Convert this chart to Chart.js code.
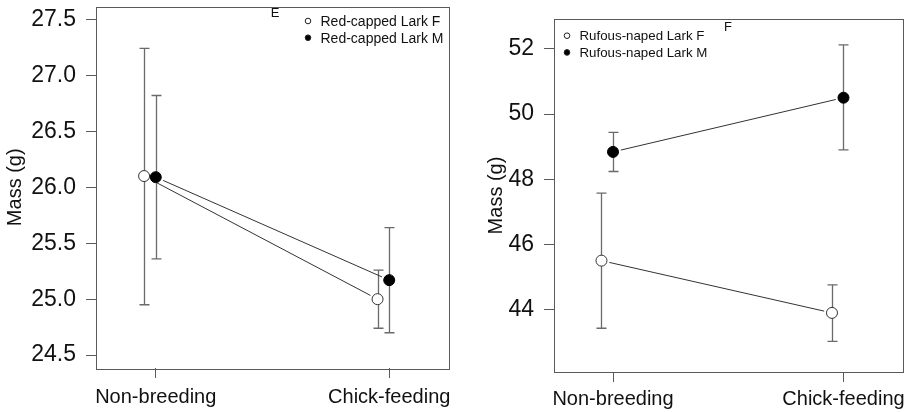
<!DOCTYPE html>
<html>
<head>
<meta charset="utf-8">
<script src="https://cdn.jsdelivr.net/npm/chart.js@4.4.1/dist/chart.umd.min.js"></script>
<style>
  html, body { margin: 0; padding: 0; background: #fff; }
  .panel { position: absolute; top: 0; }
  #panelE { left: 0; width: 460px; height: 412px; }
  #panelF { left: 460px; width: 449px; height: 412px; }
</style>
</head>
<body>
<div class="panel" id="panelE"><canvas id="chartE" width="460" height="412"></canvas></div>
<div class="panel" id="panelF"><canvas id="chartF" width="449" height="412"></canvas></div>
<script>
// shared x categories
const catLabels = ['Non-breeding', 'Chick-feeding'];
const catX = [1, 2];
const femaleShift = -0.05;

// Panel E: Red-capped Lark
const rcTicks = [24.5, 25.0, 25.5, 26.0, 26.5, 27.0, 27.5];
const rcFemaleMean = [26.10, 25.00];
const rcFemaleLow = [24.95, 24.74];
const rcFemaleHigh = [27.24, 25.26];
const rcMaleMean = [26.09, 25.17];
const rcMaleLow = [25.36, 24.70];
const rcMaleHigh = [26.82, 25.64];

// Panel F: Rufous-naped Lark
const rnTicks = [44, 46, 48, 50, 52];
const rnFemaleMean = [45.51, 43.91];
const rnFemaleLow = [43.44, 43.04];
const rnFemaleHigh = [47.58, 44.77];
const rnMaleMean = [48.84, 50.50];
const rnMaleLow = [48.24, 48.90];
const rnMaleHigh = [49.44, 52.12];

const FONT = "'Liberation Sans', Arial, sans-serif";

function points(mean, shift) {
  return mean.map((v, i) => ({ x: catX[i] + shift, y: v }));
}

/**
 * Error bars, connecting lines (with gaps like R type="b"), box, legend and panel letter
 */
const larkPlugin = {
  id: 'lark',
  beforeDatasetsDraw(chart) {
    const { ctx, scales: { x, y } } = chart;
    ctx.save();
    chart.data.datasets.forEach(ds => {
      // error bars
      ctx.strokeStyle = '#6a6a6a';
      ctx.lineWidth = 1.3;
      ds.data.forEach((p, i) => {
        const px = Math.round(x.getPixelForValue(p.x)) + 0.5;
        const yl = y.getPixelForValue(ds.low[i]);
        const yh = y.getPixelForValue(ds.high[i]);
        ctx.beginPath();
        ctx.moveTo(px, yl); ctx.lineTo(px, yh);
        ctx.moveTo(px - 5, yl); ctx.lineTo(px + 5, yl);
        ctx.moveTo(px - 5, yh); ctx.lineTo(px + 5, yh);
        ctx.stroke();
      });
      // connecting line with gaps around the points
      ctx.strokeStyle = '#333';
      ctx.lineWidth = 1;
      for (let i = 0; i < ds.data.length - 1; i++) {
        const x0 = x.getPixelForValue(ds.data[i].x), y0 = y.getPixelForValue(ds.data[i].y);
        const x1 = x.getPixelForValue(ds.data[i + 1].x), y1 = y.getPixelForValue(ds.data[i + 1].y);
        const len = Math.hypot(x1 - x0, y1 - y0);
        const gap = 8 / len;
        ctx.beginPath();
        ctx.moveTo(x0 + (x1 - x0) * gap, y0 + (y1 - y0) * gap);
        ctx.lineTo(x1 - (x1 - x0) * gap, y1 - (y1 - y0) * gap);
        ctx.stroke();
      }
    });
    ctx.restore();
  },
  afterDraw(chart, args, opts) {
    const { ctx, chartArea: a } = chart;
    ctx.save();
    // frame
    ctx.strokeStyle = '#5a5a5a';
    ctx.lineWidth = 1;
    ctx.strokeRect(Math.round(a.left) + 0.5, Math.round(a.top) + 0.5,
      Math.round(a.right - a.left), Math.round(a.bottom - a.top));
    // legend
    ctx.font = opts.legendSize + 'px ' + FONT;
    ctx.textBaseline = 'middle';
    ctx.textAlign = 'left';
    chart.data.datasets.forEach((ds, i) => {
      const ly = opts.legendY + i * 16.7;
      ctx.beginPath();
      ctx.arc(opts.legendX, ly, 2.8, 0, Math.PI * 2);
      ctx.fillStyle = ds.backgroundColor;
      ctx.fill();
      ctx.strokeStyle = '#222';
      ctx.lineWidth = 1;
      ctx.stroke();
      ctx.fillStyle = '#111';
      ctx.fillText(ds.label, opts.legendX + 12.5, ly + 1);
    });
    // panel letter
    ctx.font = '13px ' + FONT;
    ctx.textAlign = 'center';
    ctx.fillStyle = '#111';
    ctx.fillText(opts.letter, opts.letterX, opts.letterY);
    ctx.restore();
  }
};

function makeChart(id, cfg) {
  const W = cfg.width, H = cfg.height;
  return new Chart(document.getElementById(id), {
    type: 'scatter',
    data: {
      datasets: [
        {
          label: cfg.names[0],
          data: points(cfg.femaleMean, femaleShift),
          low: cfg.femaleLow, high: cfg.femaleHigh,
          backgroundColor: '#ffffff', borderColor: '#333', borderWidth: 1,
          pointRadius: 5.5
        },
        {
          label: cfg.names[1],
          data: points(cfg.maleMean, 0),
          low: cfg.maleLow, high: cfg.maleHigh,
          backgroundColor: '#000000', borderColor: '#000', borderWidth: 1,
          pointRadius: 5.5
        }
      ]
    },
    options: {
      responsive: false,
      devicePixelRatio: 1,
      animation: false,
      layout: { padding: { top: cfg.area.top, right: W - cfg.area.right, left: 0, bottom: 0 } },
      plugins: {
        legend: { display: false },
        tooltip: { enabled: false },
        lark: cfg.marks
      },
      scales: {
        x: {
          type: 'linear',
          min: 0.744, max: 2.256,
          afterBuildTicks: s => { s.ticks = catX.map(v => ({ value: v })); },
          afterFit: s => {
            s.height = H - cfg.area.bottom;
            s.paddingLeft = 0; s.paddingRight = 0;
          },
          ticks: {
            callback: v => catLabels[catX.indexOf(v)],
            font: { family: FONT, size: 20 }, color: '#111',
            padding: cfg.xPad, maxRotation: 0, autoSkip: false
          },
          grid: { drawOnChartArea: false, tickLength: 10, color: '#5a5a5a' },
          border: { display: false }
        },
        y: {
          min: cfg.yMin, max: cfg.yMax,
          afterBuildTicks: s => { s.ticks = cfg.ticks.map(v => ({ value: v })); },
          afterFit: s => {
            s.width = cfg.area.left;
            s.paddingTop = 0; s.paddingBottom = 0;
          },
          ticks: {
            callback: v => v.toFixed(cfg.decimals),
            font: { family: FONT, size: 23 }, color: '#111',
            padding: 10, autoSkip: false
          },
          grid: { drawOnChartArea: false, tickLength: 10, color: '#5a5a5a' },
          border: { display: false },
          title: {
            display: true, text: 'Mass (g)', color: '#111',
            font: { family: FONT, size: 20 },
            padding: { top: cfg.titlePad, bottom: 0 }
          }
        }
      }
    },
    plugins: [larkPlugin]
  });
}

makeChart('chartE', {
  width: 460, height: 412,
  area: { left: 96, right: 449, top: 4, bottom: 368 },
  yMin: 24.385, yMax: 27.615, ticks: rcTicks, decimals: 1,
  femaleMean: rcFemaleMean, femaleLow: rcFemaleLow, femaleHigh: rcFemaleHigh,
  maleMean: rcMaleMean, maleLow: rcMaleLow, maleHigh: rcMaleHigh,
  names: ['Red-capped Lark F', 'Red-capped Lark M'],
  titlePad: 3, xPad: 7,
  marks: { legendX: 308, legendY: 21, legendSize: 14, letter: 'E', letterX: 275, letterY: 13.5 }
});

makeChart('chartF', {
  width: 449, height: 412,
  area: { left: 94, right: 444, top: 19, bottom: 372 },
  yMin: 42.10, yMax: 52.91, ticks: rnTicks, decimals: 0,
  femaleMean: rnFemaleMean, femaleLow: rnFemaleLow, femaleHigh: rnFemaleHigh,
  maleMean: rnMaleMean, maleLow: rnMaleLow, maleHigh: rnMaleHigh,
  names: ['Rufous-naped Lark F', 'Rufous-naped Lark M'],
  titlePad: 24, xPad: 5,
  marks: { legendX: 107, legendY: 35.7, legendSize: 13.3, letter: 'F', letterX: 268, letterY: 27.5 }
});
</script>
</body>
</html>
